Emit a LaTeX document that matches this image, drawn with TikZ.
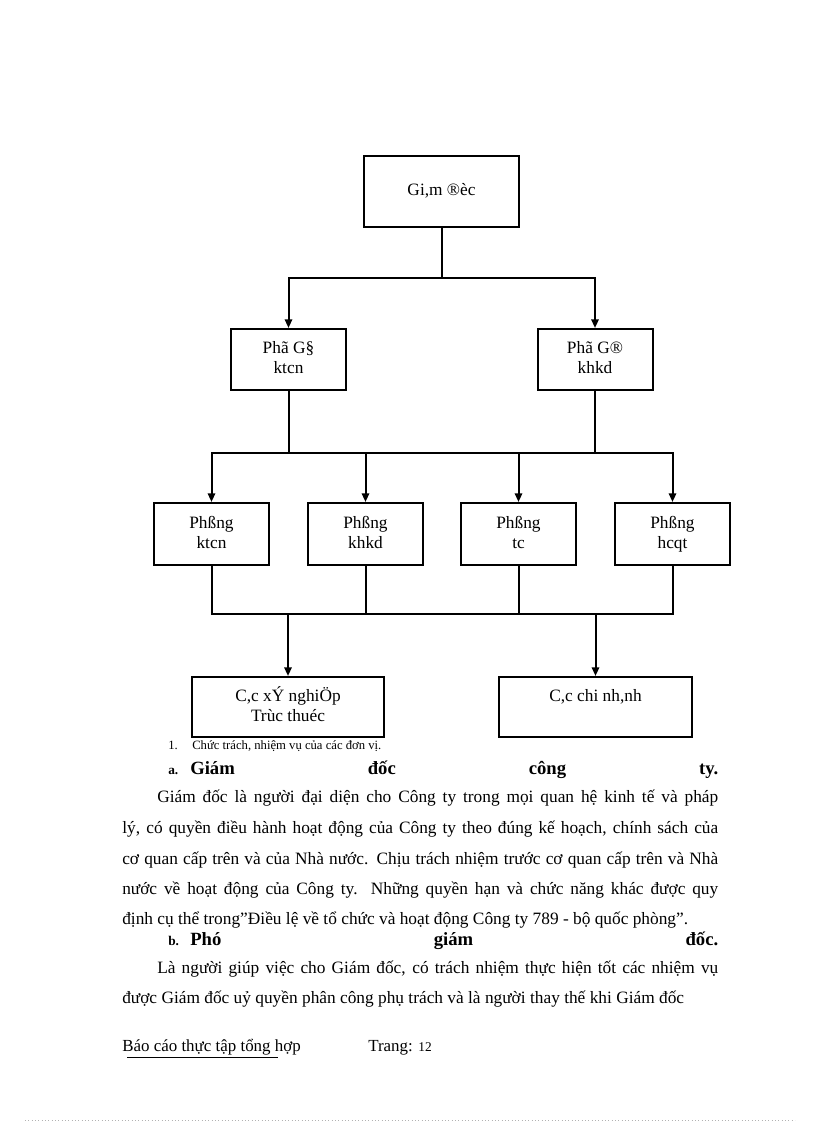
\documentclass[tikz,border=0pt]{standalone}
\usepackage{fontspec}
\setmainfont{Liberation Serif}
\usetikzlibrary{calc,positioning,arrows.meta}

\begin{document}
\begin{tikzpicture}[x=0.75pt, y=-0.75pt,
    box/.style={draw, line width=1.5pt, minimum width=115*0.75pt, minimum height=61*0.75pt, align=center, inner sep=2pt, font=\fontsize{13}{15}\selectfont},
    wbox/.style={box, minimum width=193*0.75pt, minimum height=60*0.75pt},
    ln/.style={line width=1.5pt},
    arr/.style={ln, -{Triangle[length=6.5pt, width=5.5pt]}},
    txt/.style={anchor=base west, inner sep=0pt, font=\fontsize{13}{16}\selectfont},
    hd/.style={txt, font=\fontsize{14}{17}\selectfont\bfseries},
    hdn/.style={txt, font=\fontsize{10}{12}\selectfont\bfseries}]
    \useasboundingbox (0,0) rectangle (816,1123);
    \def\LeftX{122}
    \def\IndX{157}
    \def\FullW{447pt}
    \def\IndW{420.75pt}

    % org chart
    \node[box, minimum width=155*0.75pt, minimum height=71*0.75pt] (gd) at (441.5,191.5) {\strut Gi,m ®èc};
    \node[box] (pgk) at (288.5,359.5) {\strut Phã G§\\\strut ktcn};
    \node[box] (pgd) at (595,359.5) {\strut Phã G®\\\strut khkd};
    \foreach \x/\n/\t in {211.5/pkt/ktcn, 365.5/pkh/khkd, 518.5/ptc/tc, 672.5/phc/hcqt}
        \node[box, minimum height=62*0.75pt] (\n) at (\x,534) {\strut Phßng\\\strut\t};
    \node[wbox, minimum width=192*0.75pt] (xn) at (288,707) {\strut C,c xÝ nghiÖp\\\strut Trùc thuéc};
    \node[wbox] (cn) at (595.5,707) {\strut C,c chi nh,nh\\\strut};

    \coordinate (s1) at (0,278);
    \coordinate (s2) at (0,453);
    \coordinate (s3) at (0,614);

    \draw[ln] (gd.south) -- (gd.south |- s1);
    \draw[arr] (gd.south |- s1) -| (pgk.north);
    \draw[arr] (gd.south |- s1) -| (pgd.north);

    \draw[ln] (pgk.south) -- (pgk.south |- s2);
    \draw[ln] (pgd.south) -- (pgd.south |- s2);
    \draw[arr] (pgk.south |- s2) -| (pkt.north);
    \draw[arr] (pgd.south |- s2) -| (phc.north);
    \draw[ln] (pgk.south |- s2) -- (pgd.south |- s2);
    \draw[arr] (pkh.north |- s2) -- (pkh.north);
    \draw[arr] (ptc.north |- s2) -- (ptc.north);

    \draw[ln] (pkt.south) |- (phc.south |- s3) -- (phc.south);
    \draw[ln] (pkh.south) -- (pkh.south |- s3);
    \draw[ln] (ptc.south) -- (ptc.south |- s3);
    \draw[arr] (xn.north |- s3) -- (xn.north);
    \draw[arr] (cn.north |- s3) -- (cn.north);

    % text below the chart
    \node[txt, font=\fontsize{9.5}{11}\selectfont] (capn) at (168,749) {1.};
    \node[txt, font=\fontsize{9.5}{11}\selectfont] (cap) at (192,749) {Chức trách, nhiệm vụ của các đơn vị.};

    \node[hdn] (han) at (168,774) {a.};
    \node[hd] (ha) at (190,774) {\makebox[396pt][s]{Giám đốc công ty.}};
    \node[txt] (l1) at (\IndX,802) {\makebox[\IndW][s]{Giám đốc là người đại diện cho Công ty trong mọi quan hệ kinh tế và pháp}};
    \node[txt] (l2) at (\LeftX,833) {\makebox[\FullW][s]{lý, có quyền điều hành hoạt động của Công ty theo đúng kế hoạch, chính sách của}};
    \node[txt] (l3) at (\LeftX,864) {\makebox[\FullW][s]{cơ quan cấp trên và của Nhà nước. Chịu trách nhiệm trước cơ quan cấp trên và Nhà}};
    \node[txt] (l4) at (\LeftX,894) {\makebox[\FullW][s]{nước về hoạt động của Công ty. Những quyền hạn và chức năng khác được quy}};
    \node[txt] (l5) at (\LeftX,924) {định cụ thể trong”Điều lệ về tổ chức và hoạt động Công ty 789 - bộ quốc phòng”.};

    \node[hdn] (hbn) at (168,945) {b.};
    \node[hd] (hb) at (190,945) {\makebox[396pt][s]{Phó giám đốc.}};
    \node[txt] (l6) at (\IndX,973) {\makebox[\IndW][s]{Là người giúp việc cho Giám đốc, có trách nhiệm thực hiện tốt các nhiệm vụ}};
    \node[txt] (l7) at (\LeftX,1003) {được Giám đốc uỷ quyền phân công phụ trách và là người thay thế khi Giám đốc};

    % footer
    \node[txt, font=\fontsize{12.7}{15}\selectfont] (ft) at (\LeftX,1051) {Báo cáo thực tập tổng hợp};
    \draw[line width=0.6pt] (127,1057) -- (278,1057);
    \node[txt, font=\fontsize{12.7}{15}\selectfont] (pg) at (368,1051) {Trang: {\fontsize{10}{12}\selectfont 12}};
    \draw[gray!60, dotted, line width=0.5pt] (25,1120) -- (795,1120);
\end{tikzpicture}
\end{document}
